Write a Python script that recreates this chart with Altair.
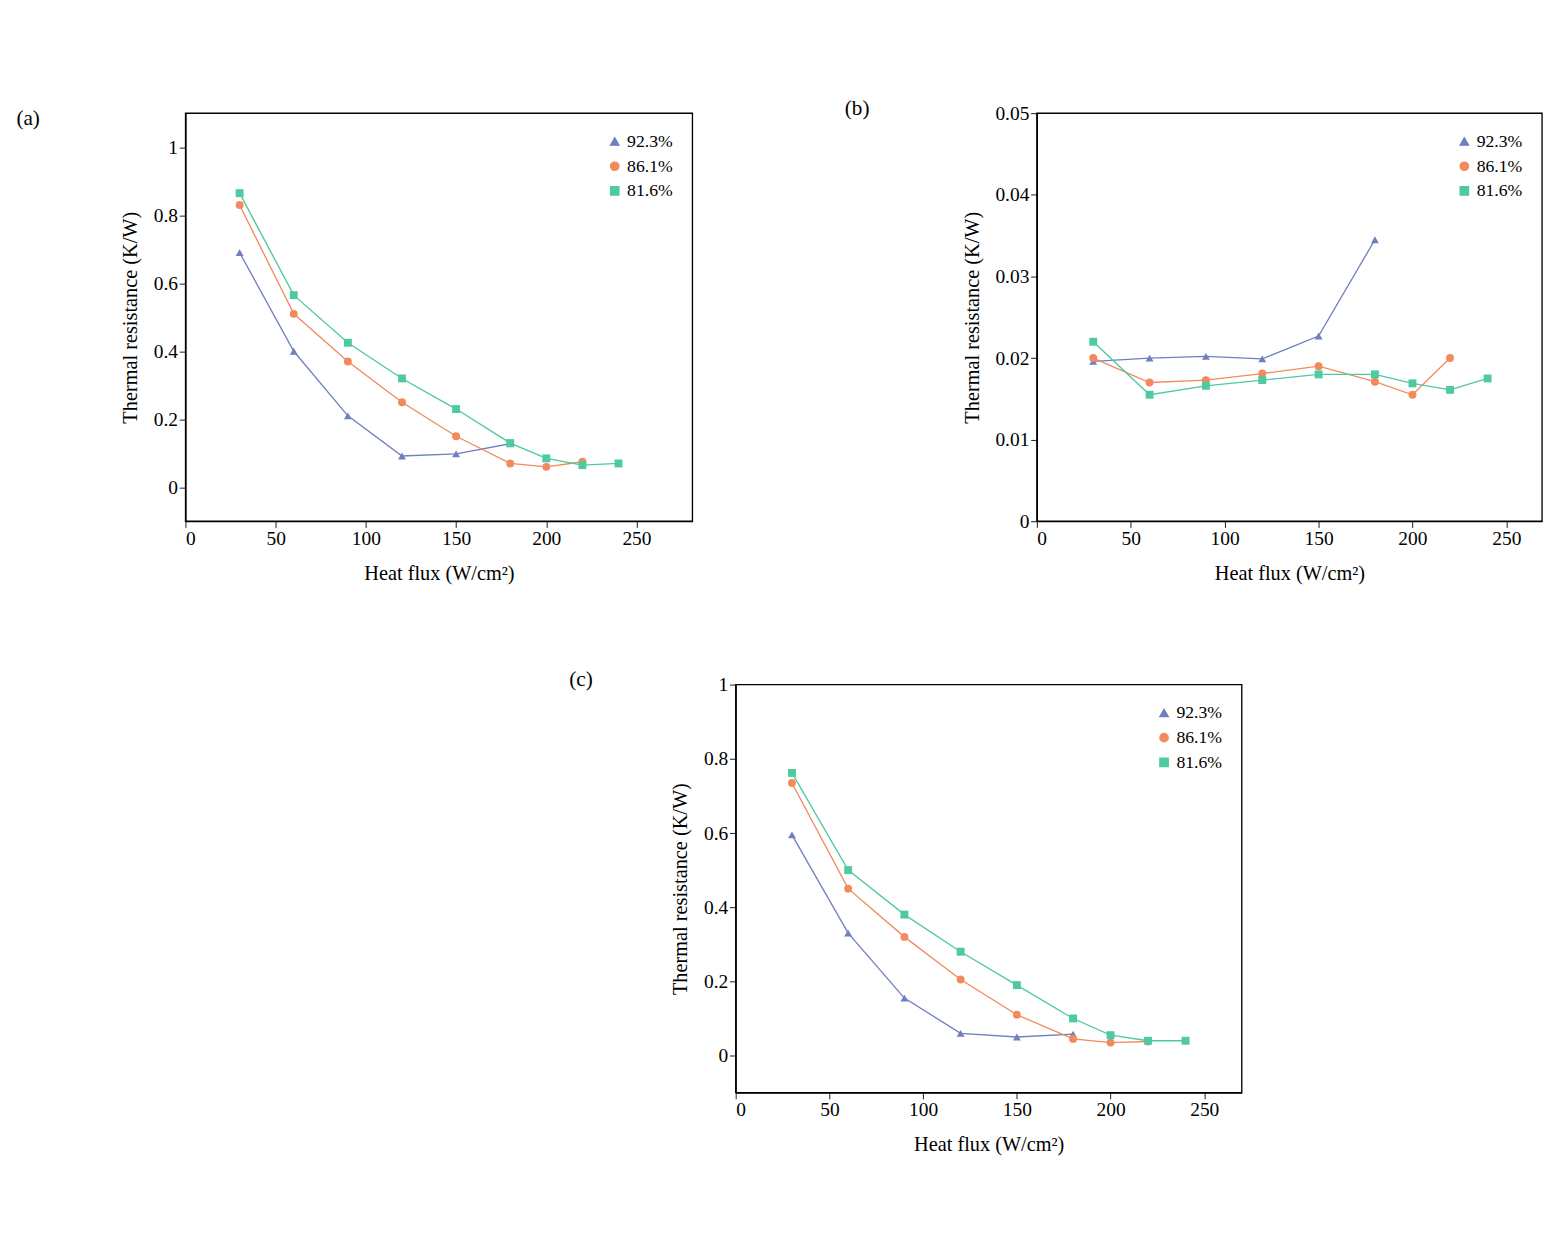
import altair as alt
import pandas as pd

series = ["92.3%", "86.1%", "81.6%"]
x_923 = [30, 60, 90, 120, 150, 180]
x_861 = [30, 60, 90, 120, 150, 180, 200, 220]
x_816 = [30, 60, 90, 120, 150, 180, 200, 220, 240]

a_923 = [0.69, 0.40, 0.21, 0.092, 0.098, 0.128]
a_861 = [0.83, 0.51, 0.37, 0.25, 0.15, 0.07, 0.06, 0.075]
a_816 = [0.865, 0.565, 0.425, 0.32, 0.23, 0.13, 0.085, 0.065, 0.07]

b_923 = [0.0196, 0.0200, 0.0202, 0.0199, 0.0227, 0.0345]
b_861 = [0.0200, 0.0170, 0.0173, 0.0181, 0.0190, 0.0171, 0.0155, 0.0200]
b_816 = [0.0220, 0.0155, 0.0166, 0.0173, 0.0180, 0.0180, 0.0169, 0.0161, 0.0175]

c_923 = [0.595, 0.33, 0.155, 0.06, 0.05, 0.058]
c_861 = [0.735, 0.45, 0.32, 0.205, 0.11, 0.045, 0.035, 0.038]
c_816 = [0.762, 0.50, 0.38, 0.28, 0.19, 0.10, 0.055, 0.04, 0.04]

colors = ["#6f7fbf", "#f28a5e", "#4ec9a0"]
shapes = ["triangle-up", "circle", "square"]
FONT = "Liberation Serif"


def frame(v923, v861, v816):
    rows = []
    for name, xs, ys in zip(series, [x_923, x_861, x_816], [v923, v861, v816]):
        for x, y in zip(xs, ys):
            rows.append({"flux": x, "R": y, "series": name})
    return pd.DataFrame(rows)


def panel(df, label, dx, ydom, yticks, xmax, w, h):
    base = alt.Chart(df).encode(
        x=alt.X("flux:Q", scale=alt.Scale(domain=[0, xmax], nice=False),
                axis=alt.Axis(values=[0, 50, 100, 150, 200, 250], title="Heat flux  (W/cm²)",
                              grid=False, titlePadding=18)),
        y=alt.Y("R:Q", scale=alt.Scale(domain=ydom, nice=False, zero=False),
                axis=alt.Axis(values=yticks, format="~g", title="Thermal resistance (K/W)",
                              grid=False, titlePadding=14)),
        color=alt.Color("series:N", sort=series,
                        scale=alt.Scale(domain=series, range=colors),
                        legend=alt.Legend(title=None, orient="top-right", offset=22,
                                          symbolSize=90, labelFontSize=20, labelFont=FONT,
                                          rowPadding=8)),
    )
    lines = base.mark_line(strokeWidth=1.5).encode(detail="series:N")
    pts = base.mark_point(filled=True, opacity=1, size=80).encode(
        shape=alt.Shape("series:N", sort=series,
                        scale=alt.Scale(domain=series, range=shapes), legend=None))
    return (lines + pts).properties(
        width=w, height=h,
        title=alt.TitleParams(label, anchor="start", dx=dx, fontSize=24,
                              font=FONT, fontWeight="normal", offset=-18))


pa = panel(frame(a_923, a_861, a_816), "(a)", -118, [-0.1, 1.1], [0, 0.2, 0.4, 0.6, 0.8, 1], 281, 574, 462)
pb = panel(frame(b_923, b_861, b_816), "(b)", -133, [0, 0.05], [0, 0.01, 0.02, 0.03, 0.04, 0.05], 269, 572, 462)
pc = panel(frame(c_923, c_861, c_816), "(c)", -115, [-0.1, 1.0], [0, 0.2, 0.4, 0.6, 0.8, 1], 270, 573, 462)

spacer = alt.Chart(pd.DataFrame({"v": [0]})).mark_point(opacity=0).encode(
    x=alt.X("v:Q", axis=None), y=alt.Y("v:Q", axis=None)
).properties(width=432, height=10, view=alt.ViewBackground(stroke="transparent"))

top = alt.hconcat(pa, pb, spacing=170).resolve_scale(color="independent", shape="independent")
bottom = alt.hconcat(spacer, pc, spacing=0).resolve_scale(color="independent", shape="independent")

chart = alt.vconcat(top, bottom, spacing=95).resolve_scale(
    color="independent", shape="independent"
).properties(
    background="white", padding={"left": 8, "top": 20, "right": 8, "bottom": 8}
).configure_view(
    stroke="black", strokeWidth=1.5
).configure_axis(
    labelFont=FONT, titleFont=FONT, labelFontSize=22, titleFontSize=23,
    titleFontWeight="normal", labelColor="black", titleColor="black",
    domainColor="black", tickColor="black", domainWidth=1.5, tickSize=7
)

chart.save("out.html", embed_options={"renderer": "svg", "actions": False})
